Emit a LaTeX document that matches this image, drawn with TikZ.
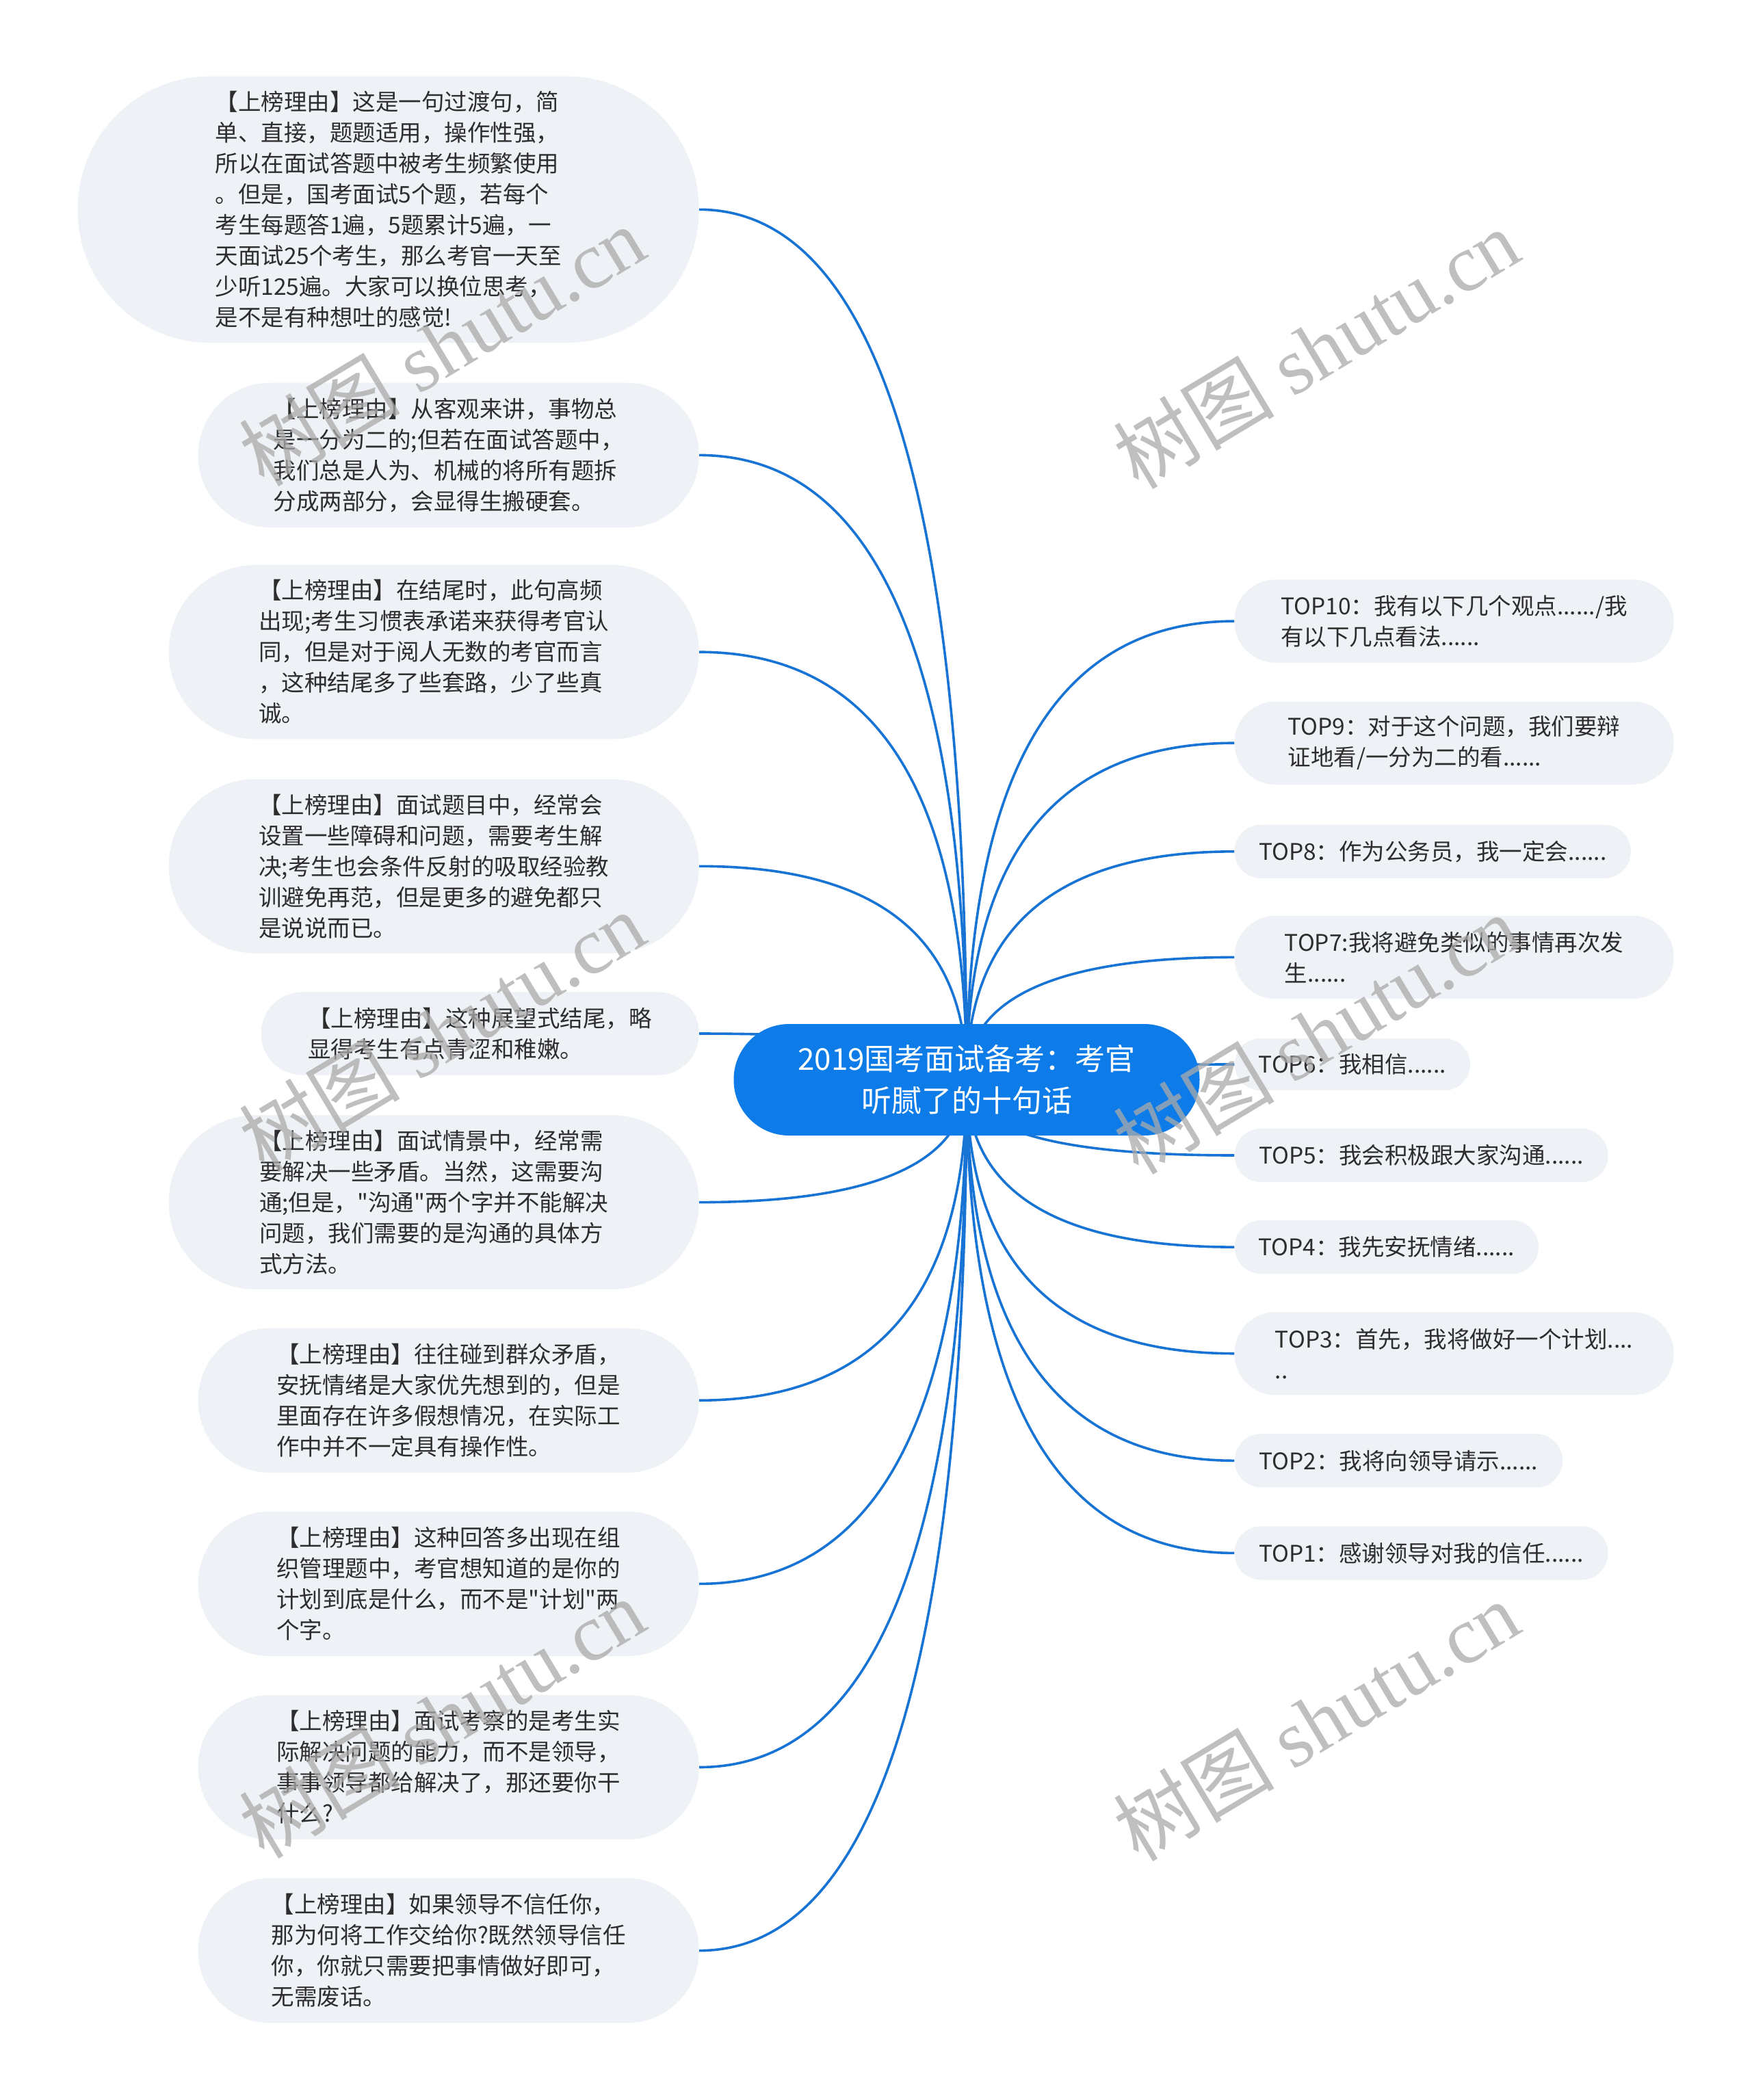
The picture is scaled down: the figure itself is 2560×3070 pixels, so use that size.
\documentclass[tikz,border=0pt]{standalone}
\usepackage{fontspec}
\setmainfont{Noto Sans CJK SC}
\newfontfamily\wmserif{Liberation Serif}
\font\plainquotefont="Noto Sans CJK SC" at 33.5pt
\newcommand{\sq}{{\plainquotefont\char34}}
\usetikzlibrary{backgrounds,calc}
\definecolor{bubfill}{RGB}{238,241,245}
\definecolor{txtcol}{RGB}{45,45,45}
\definecolor{mainblue}{RGB}{13,124,232}
\definecolor{linkblue}{RGB}{24,116,212}
\definecolor{wmgray}{RGB}{170,170,170}
\tikzset{
  bub/.style={fill=bubfill, draw=none, align=left, text=txtcol, inner sep=0pt,
    font=\fontsize{33.5}{45}\selectfont},
  centerbox/.style={fill=mainblue, draw=none, align=center, text=white, inner sep=0pt,
    font=\fontsize{44}{61}\selectfont, minimum width=681, minimum height=163, rounded corners=81},
  conn/.style={draw=linkblue, line width=3.6pt},
  wm/.style={text=wmgray, opacity=0.75, rotate=31, inner sep=0pt, font=\fontsize{118}{118}\selectfont}
}
\begin{document}
\begin{tikzpicture}[x=1pt,y=-1pt]
\useasboundingbox (0,0) rectangle (2560,3070);

\node[centerbox] (C) at (1413,1578.5) {2019国考面试备考：考官\\听腻了的十句话};

% left nodes
\node[bub, minimum width=908, minimum height=389.5, rounded corners=194] (l1) at (567.6,306.3) {【上榜理由】这是一句过渡句，简\\单、直接，题题适用，操作性强，\\所以在面试答题中被考生频繁使用\\。但是，国考面试5个题，若每个\\考生每题答1遍，5题累计5遍，一\\天面试25个考生，那么考官一天至\\少听125遍。大家可以换位思考，\\是不是有种想吐的感觉!};
\node[bub, minimum width=732, minimum height=211.4, rounded corners=105] (l2) at (655.7,665.4) {【上榜理由】从客观来讲，事物总\\是一分为二的;但若在面试答题中，\\我们总是人为、机械的将所有题拆\\分成两部分，会显得生搬硬套。};
\node[bub, minimum width=775, minimum height=254.4, rounded corners=127] (l3) at (634.2,953.2) {【上榜理由】在结尾时，此句高频\\出现;考生习惯表承诺来获得考官认\\同，但是对于阅人无数的考官而言\\，这种结尾多了些套路，少了些真\\诚。};
\node[bub, minimum width=775, minimum height=254.4, rounded corners=127] (l4) at (634.2,1266.3) {【上榜理由】面试题目中，经常会\\设置一些障碍和问题，需要考生解\\决;考生也会条件反射的吸取经验教\\训避免再范，但是更多的避免都只\\是说说而已。};
\node[bub, minimum width=640, minimum height=121.3, rounded corners=60] (l5) at (701.7,1511) {【上榜理由】这种展望式结尾，略\\显得考生有点青涩和稚嫩。};
\node[bub, minimum width=775, minimum height=254.4, rounded corners=127] (l6) at (634.2,1757.6) {【上榜理由】面试情景中，经常需\\要解决一些矛盾。当然，这需要沟\\通;但是，\sq 沟通\sq 两个字并不能解决\\问题，我们需要的是沟通的具体方\\式方法。};
\node[bub, minimum width=732, minimum height=211.4, rounded corners=105] (l7) at (655.7,2047.2) {【上榜理由】往往碰到群众矛盾，\\安抚情绪是大家优先想到的，但是\\里面存在许多假想情况，在实际工\\作中并不一定具有操作性。};
\node[bub, minimum width=732, minimum height=211.4, rounded corners=105] (l8) at (655.7,2315.4) {【上榜理由】这种回答多出现在组\\织管理题中，考官想知道的是你的\\计划到底是什么，而不是\sq 计划\sq 两\\个字。};
\node[bub, minimum width=732, minimum height=211.4, rounded corners=105] (l9) at (655.7,2583.5) {【上榜理由】面试考察的是考生实\\际解决问题的能力，而不是领导，\\事事领导都给解决了，那还要你干\\什么?};
\node[bub, minimum width=732, minimum height=211.4, rounded corners=105] (l10) at (655.7,2851.6) {【上榜理由】如果领导不信任你，\\那为何将工作交给你?既然领导信任\\你，你就只需要把事情做好即可，\\无需废话。};

% right nodes
\node[bub, minimum width=642, minimum height=121.3, rounded corners=60] (r10) at (2125.5,908.1) {TOP10：我有以下几个观点....../我\\有以下几点看法......};
\node[bub, minimum width=642, minimum height=121.3, rounded corners=60] (r9) at (2125.5,1086.2) {TOP9：对于这个问题，我们要辩\\证地看/一分为二的看......};
\node[bub, minimum width=579.3, minimum height=78.3, rounded corners=39] (r8) at (2094.2,1244.8) {TOP8：作为公务员，我一定会......};
\node[bub, minimum width=642, minimum height=121.3, rounded corners=60] (r7) at (2125.5,1399.4) {TOP7:我将避免类似的事情再次发\\生......};
\node[bub, minimum width=344.5, minimum height=76, rounded corners=38] (r6) at (1976.8,1556) {TOP6：我相信......};
\node[bub, minimum width=546, minimum height=78.3, rounded corners=39] (r5) at (2077.5,1689) {TOP5：我会积极跟大家沟通......};
\node[bub, minimum width=444.3, minimum height=78.3, rounded corners=39] (r4) at (2026.7,1823.1) {TOP4：我先安抚情绪......};
\node[bub, minimum width=642, minimum height=121.3, rounded corners=60] (r3) at (2125.5,1978.7) {TOP3：首先，我将做好一个计划....\\..};
\node[bub, minimum width=479.5, minimum height=78.3, rounded corners=39] (r2) at (2044.3,2135.3) {TOP2：我将向领导请示......};
\node[bub, minimum width=546, minimum height=78.3, rounded corners=39] (r1) at (2077.5,2270.4) {TOP1：感谢领导对我的信任......};

\begin{pgfonlayer}{background}
\fill[white] (0,0) rectangle (2560,3070);
\foreach \n in {l1,l2,l3,l4,l5,l6,l7,l8,l9,l10}{
  \coordinate (q\n) at (C.center |- \n.east);
  \draw[conn] (C.center) .. controls ($(C.center)!0.6667!(q\n)$) and ($(\n.east)!0.6667!(q\n)$) .. (\n.east);
}
\foreach \n in {r10,r9,r8,r7,r6,r5,r4,r3,r2,r1}{
  \coordinate (q\n) at (C.center |- \n.west);
  \draw[conn] (C.center) .. controls ($(C.center)!0.6667!(q\n)$) and ($(\n.west)!0.6667!(q\n)$) .. (\n.west);
}
\end{pgfonlayer}

% watermarks
\node[wm] (w1) at (646,505) {树图 {\wmserif shutu.cn}};
\node[wm] (w2) at (1924,509) {树图 {\wmserif shutu.cn}};
\node[wm] (w3) at (646,1507) {树图 {\wmserif shutu.cn}};
\node[wm] (w4) at (1924,1511) {树图 {\wmserif shutu.cn}};
\node[wm] (w5) at (646,2511) {树图 {\wmserif shutu.cn}};
\node[wm] (w6) at (1924,2515) {树图 {\wmserif shutu.cn}};
\end{tikzpicture}
\end{document}
